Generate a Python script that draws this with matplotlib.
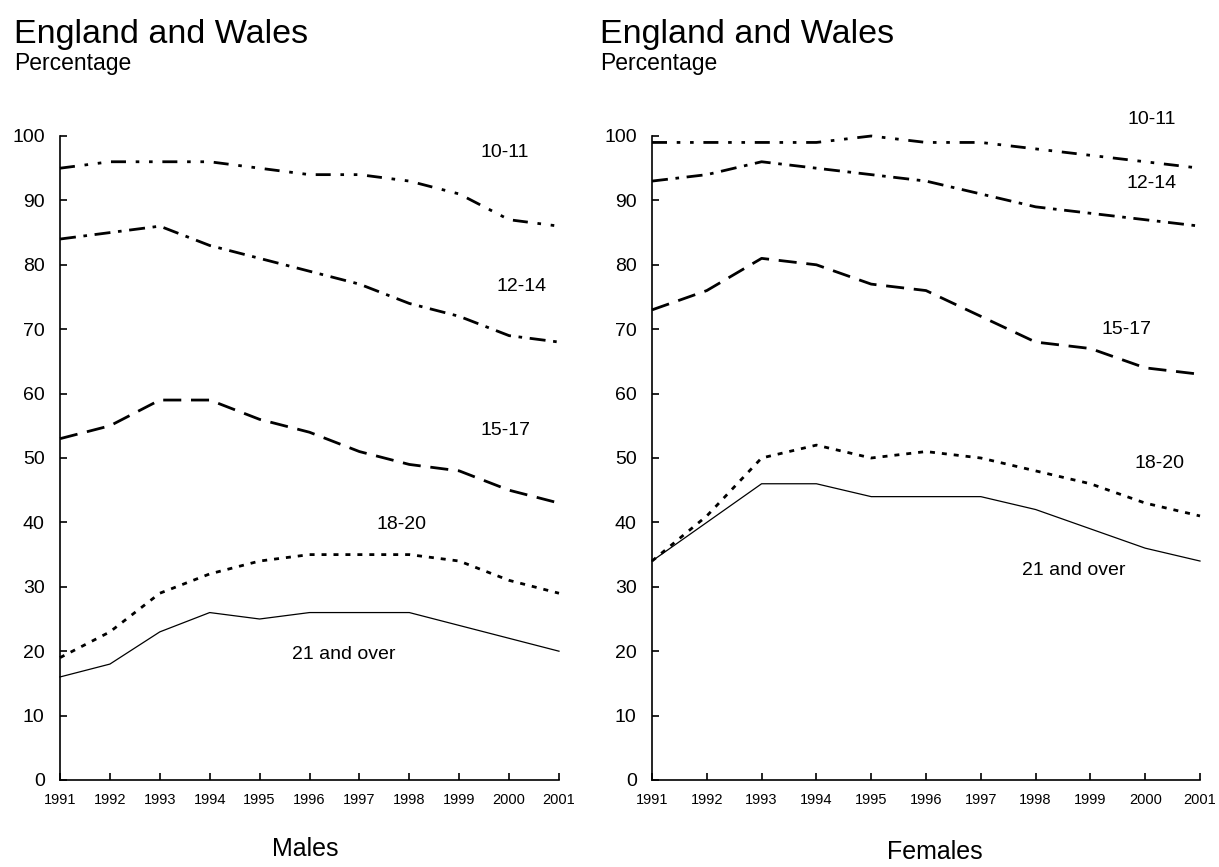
import matplotlib
matplotlib.use("Agg")
import matplotlib.pyplot as plt

plt.rcParams['font.family'] = ['Liberation Sans', 'DejaVu Sans']
plt.rcParams['lines.scale_dashes'] = False

years = [1991, 1992, 1993, 1994, 1995, 1996, 1997, 1998, 1999, 2000, 2001]
series_names = ["10-11", "12-14", "15-17", "18-20", "21 and over"]

males_10_11 = [95, 96, 96, 96, 95, 94, 94, 93, 91, 87, 86]
males_12_14 = [84, 85, 86, 83, 81, 79, 77, 74, 72, 69, 68]
males_15_17 = [53, 55, 59, 59, 56, 54, 51, 49, 48, 45, 43]
males_18_20 = [19, 23, 29, 32, 34, 35, 35, 35, 34, 31, 29]
males_21_over = [16, 18, 23, 26, 25, 26, 26, 26, 24, 22, 20]

females_10_11 = [99, 99, 99, 99, 100, 99, 99, 98, 97, 96, 95]
females_12_14 = [93, 94, 96, 95, 94, 93, 91, 89, 88, 87, 86]
females_15_17 = [73, 76, 81, 80, 77, 76, 72, 68, 67, 64, 63]
females_18_20 = [34, 41, 50, 52, 50, 51, 50, 48, 46, 43, 41]
females_21_over = [34, 40, 46, 46, 44, 44, 44, 42, 39, 36, 34]

styles = [
    dict(lw=2.0, dashes=(10.8, 7.0, 2.6, 7.0, 2.6, 7.0)),
    dict(lw=2.0, dashes=(11.5, 5.5, 2.6, 5.5)),
    dict(lw=2.0, dashes=(13.0, 7.0)),
    dict(lw=2.0, dashes=(3.6, 5.0)),
    dict(lw=0.9, linestyle='-'),
]

fig = plt.figure(figsize=(12.19, 8.67), dpi=100)

def setup(ax):
    ax.set_xlim(1991, 2001)
    ax.set_ylim(0, 100)
    for s in ['top', 'right']:
        ax.spines[s].set_visible(False)
    for s in ['left', 'bottom']:
        ax.spines[s].set_linewidth(1.2)
    ax.set_xticks(years)
    ax.set_xticklabels([str(y) for y in years], fontsize=10.5)
    ax.set_yticks(range(0, 101, 10))
    ax.tick_params(axis='x', direction='in', length=5, width=1.2, pad=9)
    ax.tick_params(axis='y', direction='in', length=5, width=1.2, labelsize=14, pad=11)

axL = fig.add_axes([60/1219, 1-780/867, 499/1219, 644/867])
axR = fig.add_axes([652/1219, 1-780/867, 548/1219, 644/867])

males = [males_10_11, males_12_14, males_15_17, males_18_20, males_21_over]
females = [females_10_11, females_12_14, females_15_17, females_18_20, females_21_over]

for ax, data in [(axL, males), (axR, females)]:
    for vals, st in zip(data, styles):
        ax.plot(years, vals, color='black', clip_on=False, **st)

setup(axL)
setup(axR)

# series labels (data coordinates)
male_label_pos = [(1999.92, 97.5), (2000.24, 76.7), (1999.92, 54.3), (1997.85, 39.75), (1996.68, 19.5)]
female_label_pos = [(2000.12, 102.5), (2000.12, 92.7), (1999.65, 70.0), (2000.27, 49.1), (1998.70, 32.5)]
for ax, poss in [(axL, male_label_pos), (axR, female_label_pos)]:
    for name, (x, y) in zip(series_names, poss):
        ax.text(x, y, name, fontsize=14, ha='center', va='center', clip_on=False)

# titles
for x0 in [14/1219, 600/1219]:
    fig.text(x0, 1-43/867, "England and Wales", fontsize=24.5, ha='left', va='baseline')
    fig.text(x0, 1-70/867, "Percentage", fontsize=16.5, ha='left', va='baseline')

fig.text(305/1219, 1-856/867, "Males", fontsize=18, ha='center', va='baseline')
fig.text(935/1219, 1-859/867, "Females", fontsize=18, ha='center', va='baseline')

fig.savefig("out.png", dpi=100)
